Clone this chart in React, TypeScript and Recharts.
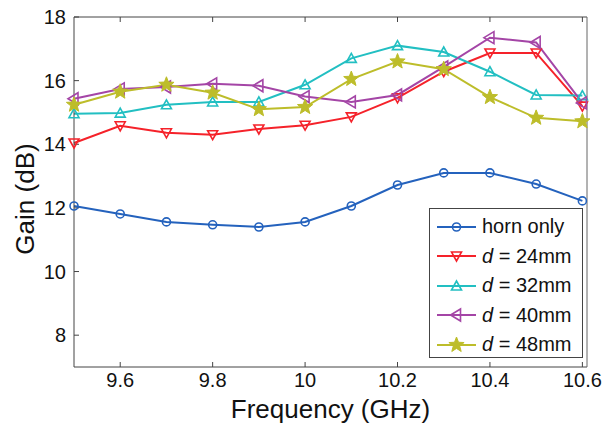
import { LineChart, Line, XAxis, YAxis, Legend, Label } from 'recharts';

const freqs = [9.5, 9.6, 9.7, 9.8, 9.9, 10.0, 10.1, 10.2, 10.3, 10.4, 10.5, 10.6];
const hornOnly = [12.06, 11.81, 11.56, 11.47, 11.4, 11.56, 12.06, 12.72, 13.1, 13.1, 12.75, 12.22];
const d24 = [14.04, 14.58, 14.36, 14.3, 14.48, 14.6, 14.86, 15.46, 16.28, 16.87, 16.87, 15.2];
const d32 = [14.96, 14.98, 15.24, 15.33, 15.33, 15.87, 16.7, 17.1, 16.9, 16.28, 15.55, 15.53];
const d40 = [15.43, 15.74, 15.8, 15.9, 15.84, 15.5, 15.33, 15.55, 16.43, 17.35, 17.2, 15.3];
const d48 = [15.24, 15.65, 15.87, 15.62, 15.1, 15.17, 16.05, 16.6, 16.36, 15.48, 14.83, 14.72];

const xTicks = [9.6, 9.8, 10, 10.2, 10.4, 10.6];
const yTicks = [8, 10, 12, 14, 16, 18];

const data = freqs.map((f, i) => ({
  f,
  horn: hornOnly[i],
  d24: d24[i],
  d32: d32[i],
  d40: d40[i],
  d48: d48[i],
}));

const series = [
  { key: 'horn', color: '#2462bd', shape: 'circle', label: 'horn only', mm: '' },
  { key: 'd24', color: '#f5222a', shape: 'down', label: '', mm: '24mm' },
  { key: 'd32', color: '#22bfc2', shape: 'up', label: '', mm: '32mm' },
  { key: 'd40', color: '#a445a6', shape: 'left', label: '', mm: '40mm' },
  { key: 'd48', color: '#bdbd2a', shape: 'star', label: '', mm: '48mm' },
];

const font = '"Liberation Sans", Arial, sans-serif';

function starPoints(cx: number, cy: number, R: number, r: number) {
  const pts: string[] = [];
  for (let i = 0; i < 10; i++) {
    const a = -Math.PI / 2 + (i * Math.PI) / 5;
    const rad = i % 2 === 0 ? R : r;
    pts.push(`${cx + rad * Math.cos(a)},${cy + rad * Math.sin(a)}`);
  }
  return pts.join(' ');
}

function Marker({ cx, cy, shape, color }: { cx: number; cy: number; shape: string; color: string }) {
  if (cx == null || cy == null) return null;
  const common = { stroke: color, strokeWidth: 1.6, fill: 'none' };
  if (shape === 'circle') return <circle cx={cx} cy={cy} r={4} {...common} />;
  if (shape === 'down')
    return <polygon points={`${cx - 5},${cy - 4} ${cx + 5},${cy - 4} ${cx},${cy + 5}`} {...common} />;
  if (shape === 'up')
    return <polygon points={`${cx - 5},${cy + 4} ${cx + 5},${cy + 4} ${cx},${cy - 5}`} {...common} />;
  if (shape === 'left')
    return <polygon points={`${cx + 4},${cy - 6} ${cx + 4},${cy + 6} ${cx - 6},${cy}`} {...common} />;
  return <polygon points={starPoints(cx, cy, 8, 3.4)} fill={color} stroke={color} strokeWidth={1} />;
}

const renderLegend = () => (
  <div
    style={{
      width: 154,
      height: 150,
      border: '1px solid #444',
      background: '#fff',
      boxSizing: 'border-box',
      paddingTop: 3,
      fontFamily: font,
      fontSize: 20,
      color: '#111',
    }}
  >
    {series.map((s) => (
      <div key={s.key} style={{ display: 'flex', alignItems: 'center', height: 29.5 }}>
        <svg width={52} height={20} style={{ flex: 'none' }}>
          <line x1={7} x2={46} y1={10} y2={10} stroke={s.color} strokeWidth={2} />
          <Marker cx={26.5} cy={10} shape={s.shape} color={s.color} />
        </svg>
        <span style={{ whiteSpace: 'nowrap' }}>
          {s.label ? s.label : (
            <>
              <i>d</i> = {s.mm}
            </>
          )}
        </span>
      </div>
    ))}
  </div>
);

const App = () => {
  return (
    <div style={{ position: 'absolute', left: 0, top: 0, background: '#fff' }}>
      <LineChart
        width={615}
        height={426}
        data={data}
        margin={{ top: 16, right: 27, bottom: 0, left: 0 }}
        style={{ fontFamily: font }}
      >
        <XAxis
          dataKey="f"
          type="number"
          domain={[9.5, 10.61]}
          ticks={xTicks}
          tickFormatter={(v) => String(v)}
          height={59}
          tickSize={-5}
          tickMargin={11}
          stroke="#444"
          tick={{ fill: '#111', fontSize: 20 }}
        >
          <Label value="Frequency (GHz)" position="insideBottom" offset={8} fill="#111" fontSize={26} />
        </XAxis>
        <XAxis
          xAxisId="t"
          dataKey="f"
          type="number"
          orientation="top"
          domain={[9.5, 10.61]}
          ticks={xTicks}
          height={1}
          tickSize={-5}
          tickFormatter={() => ''}
          stroke="#444"
        />
        <YAxis
          type="number"
          domain={[7, 18]}
          ticks={yTicks}
          width={74}
          tickSize={-5}
          tickMargin={13}
          stroke="#444"
          tick={{ fill: '#111', fontSize: 20 }}
        >
          <Label
            content={({ viewBox }: any) => {
              const x = viewBox.x + 25;
              const y = viewBox.y + viewBox.height / 2 + 7;
              return (
                <text
                  x={x}
                  y={y}
                  transform={`rotate(-90, ${x}, ${y})`}
                  textAnchor="middle"
                  dominantBaseline="central"
                  fontSize={26}
                  fill="#111"
                  fontFamily={font}
                >
                  Gain (dB)
                </text>
              );
            }}
          />
        </YAxis>
        <YAxis
          yAxisId="r"
          orientation="right"
          type="number"
          domain={[7, 18]}
          ticks={yTicks}
          width={1}
          tickSize={-5}
          tickFormatter={() => ''}
          stroke="#666"
        />
        {series.map((s) => (
          <Line
            key={s.key}
            dataKey={s.key}
            stroke={s.color}
            strokeWidth={2}
            isAnimationActive={false}
            dot={(p: any) => <Marker key={`${s.key}-${p.index}`} cx={p.cx} cy={p.cy} shape={s.shape} color={s.color} />}
            activeDot={false}
          />
        ))}
        <Legend
          content={renderLegend}
          layout="vertical"
          align="center"
          verticalAlign="middle"
          wrapperStyle={{ position: 'absolute', left: 429, top: 208, width: 154 }}
        />
      </LineChart>
    </div>
  );
};

export default App;
